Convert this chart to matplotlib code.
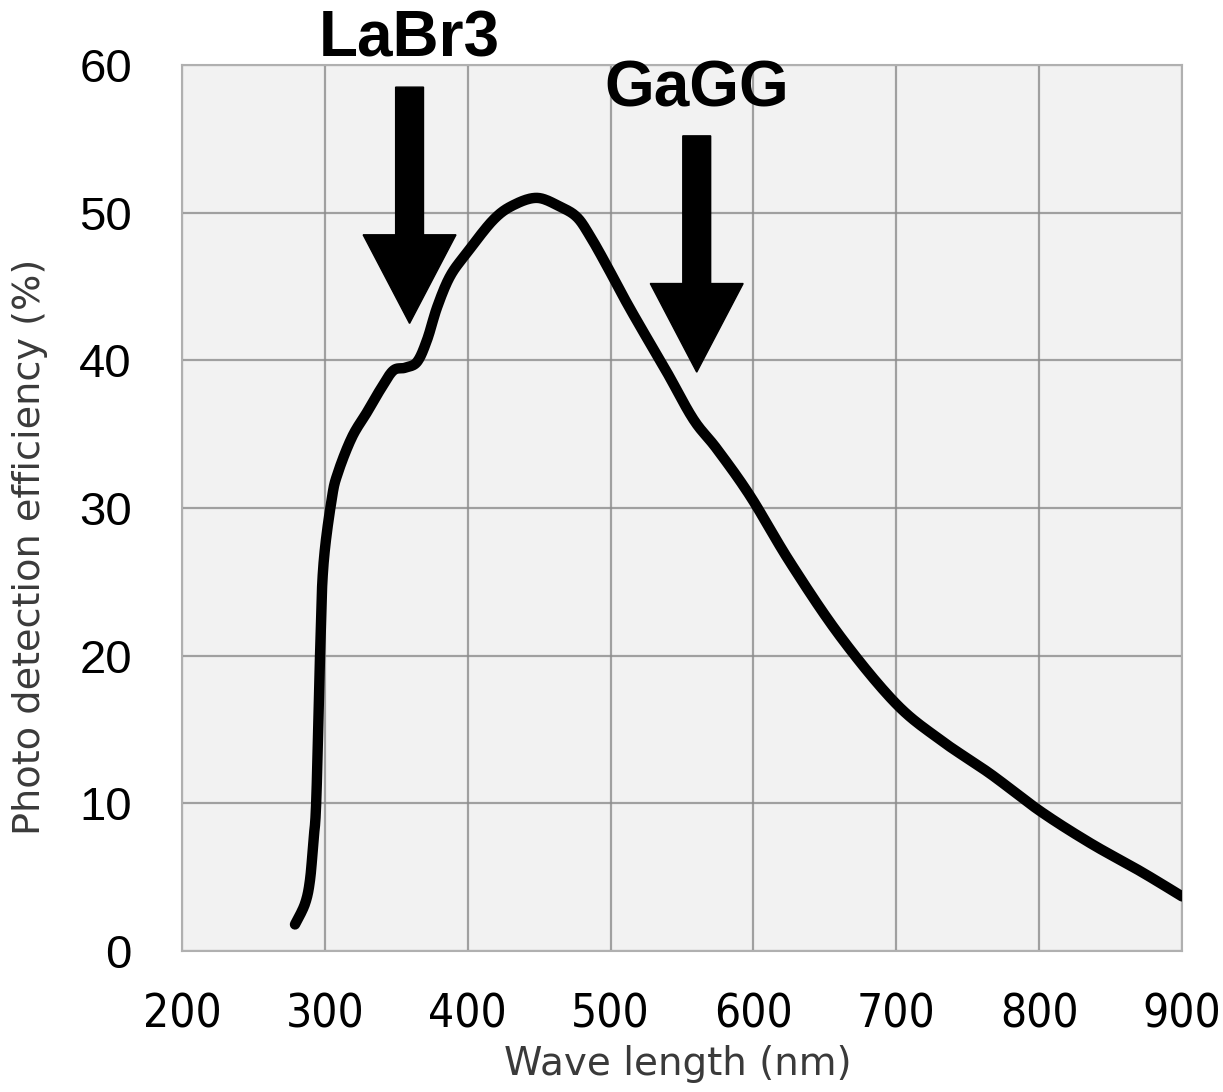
import numpy as np
import matplotlib
matplotlib.use("Agg")
import matplotlib.pyplot as plt
from matplotlib import font_manager

# PDE curve
wavelength = [279.1, 286.1, 289.6, 292.0, 294.0, 296.6, 298.9, 304.8, 309.2, 319.0,
              329.6, 338.7, 347.8, 356.2, 364.6, 371.6, 378.6, 387.7, 399.6, 417.8,
              431.8, 448.6, 464.7, 476.4, 485.7, 497.4, 509.0, 520.7, 539.4, 558.0,
              574.4, 597.8, 625.8, 660.8, 699.3, 730.8, 765.8, 800.3, 835.9, 870.9,
              900.0]
pde = [1.8, 3.2, 4.8, 7.5, 10.2, 19.9, 26.0, 30.6, 32.4, 34.8,
       36.5, 38.0, 39.3, 39.5, 39.9, 41.4, 43.6, 45.7, 47.3, 49.5,
       50.5, 51.0, 50.4, 49.7, 48.4, 46.4, 44.3, 42.3, 39.2, 36.0,
       34.0, 30.8, 26.3, 21.3, 16.8, 14.3, 12.0, 9.5, 7.3, 5.4,
       3.7]

x_ticks = [200, 300, 400, 500, 600, 700, 800, 900]
y_ticks = [0, 10, 20, 30, 40, 50, 60]

# scintillator markers: name, wavelength, arrow tip, arrow top, label baseline
labels = ["LaBr3", "GaGG"]
label_wl = [359.3, 560.3]
tip_val = [42.5, 39.2]
top_val = [58.5, 55.2]
label_y = [60.6, 57.2]


def smooth(xs, ys, n=20):
    # catmull-rom through the read points, in roughly pixel-scaled space
    p = np.column_stack([np.asarray(xs) * 1.43, np.asarray(ys) * 14.75])
    p = np.vstack([p[0], p, p[-1]])
    out = []
    for i in range(1, len(p) - 2):
        p0, p1, p2, p3 = p[i - 1], p[i], p[i + 1], p[i + 2]
        t = np.linspace(0, 1, n, endpoint=False)[:, None]
        seg = 0.5 * ((2 * p1) + (-p0 + p2) * t + (2 * p0 - 5 * p1 + 4 * p2 - p3) * t ** 2
                     + (-p0 + 3 * p1 - 3 * p2 + p3) * t ** 3)
        out.append(seg)
    out.append(p[-2][None, :])
    out = np.vstack(out)
    return out[:, 0] / 1.43, out[:, 1] / 14.75


names = {f.name for f in font_manager.fontManager.ttflist}
narrow = "Liberation Sans Narrow" if "Liberation Sans Narrow" in names else "DejaVu Sans"

fig = plt.figure(figsize=(12.23, 10.92), dpi=100)
ax = fig.add_axes([0.1488, 0.1291, 0.8177, 0.8114])
ax.set_facecolor("#f2f2f2")

sx, sy = smooth(wavelength, pde)
ax.plot(sx, sy, color="black", lw=7.5, solid_capstyle="round",
        solid_joinstyle="round", zorder=3)

ax.set_xlim(200, 900)
ax.set_ylim(0, 60)
ax.set_xticks(x_ticks)
ax.set_yticks(y_ticks)
ax.grid(True, color="#8c8c8c", lw=1.6, alpha=0.8)
ax.set_axisbelow(True)
for s in ax.spines.values():
    s.set_color("#b0b0b0")
    s.set_linewidth(1.5)
ax.tick_params(length=0)
ax.tick_params(axis="y", pad=36)
ax.tick_params(axis="x", pad=30)
for t in ax.get_yticklabels():
    t.set_fontfamily("Liberation Sans")
    t.set_fontsize(34)
for t in ax.get_xticklabels():
    t.set_fontfamily(narrow)
    t.set_fontstretch("condensed")
    t.set_fontsize(33)

ax.set_xlabel("Wave length (nm)", fontsize=28, color="#3a3a3a",
              fontfamily="DejaVu Sans")
ax.set_ylabel("Photo detection efficiency (%)", fontsize=27.5, color="#3a3a3a",
              fontfamily="DejaVu Sans")
ax.xaxis.set_label_coords(0.4955, -0.106)
ax.yaxis.set_label_coords(-0.134, 0.456)

# arrows and labels
shaft_w = 19.5
head_w = 65
head_len = 6.0
for name, wl, tip, top, ly in zip(labels, label_wl, tip_val, top_val, label_y):
    base = tip + head_len
    px = [wl - shaft_w / 2, wl + shaft_w / 2, wl + shaft_w / 2, wl + head_w / 2,
          wl, wl - head_w / 2, wl - shaft_w / 2]
    py = [top, top, base, base, tip, base, base]
    ax.fill(px, py, color="black", zorder=4, clip_on=False)
    ax.text(wl, ly, name, ha="center", va="baseline", fontsize=46,
            fontweight="bold", fontfamily="Liberation Sans")

fig.savefig("out.png", dpi=100)
